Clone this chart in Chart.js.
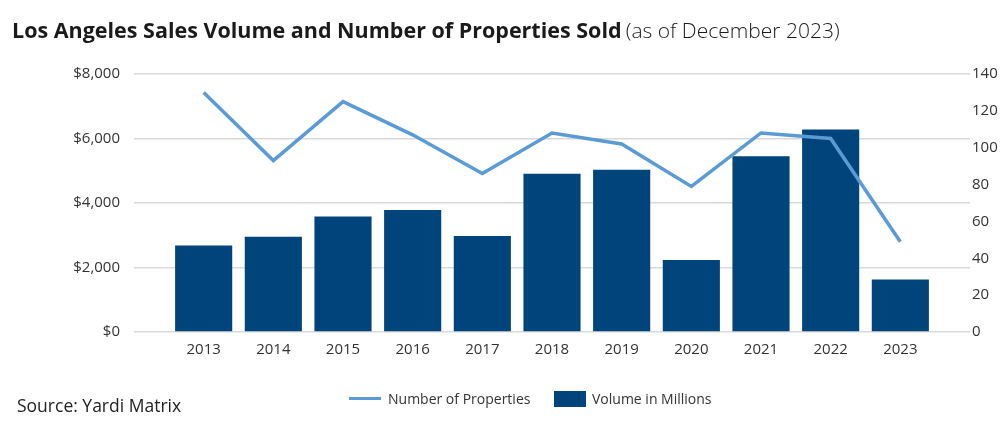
<!DOCTYPE html>
<html>
<head>
<meta charset="utf-8">
<script src="https://cdn.jsdelivr.net/npm/chart.js@4/dist/chart.umd.min.js"></script>
<style>
  html, body { margin: 0; padding: 0; background: #fff; }
  #wrap { position: relative; width: 1007px; height: 433px; overflow: hidden; }
  #c { position: absolute; left: 0; top: 0; }
  #title { position: absolute; left: 12px; top: 15px; font-family: "Open Sans", sans-serif; line-height: 30px; color: #1a1a1a; white-space: nowrap; }
  #title b { font-weight: 700; font-size: 21.5px; }
  #title span { font-weight: 300; font-size: 21px; }
  #source { position: absolute; left: 17px; top: 392px; font-family: "Open Sans", sans-serif; font-size: 17.5px; line-height: 26px; color: #222; white-space: nowrap; }
  .lg { position: absolute; font-family: "Open Sans", sans-serif; font-size: 14px; line-height: 20px; color: #333; white-space: nowrap; }
</style>
</head>
<body>
<div id="wrap">
  <canvas id="c" width="1007" height="433"></canvas>
  <div id="title"></div>
  <div id="legend"></div>
  <div id="source"></div>
</div>
<script>
// ---- Data ----
const years = [2013, 2014, 2015, 2016, 2017, 2018, 2019, 2020, 2021, 2022, 2023];
const volumeMillions = [2680, 2950, 3580, 3780, 2980, 4910, 5030, 2230, 5450, 6280, 1630];
const propertiesSold = [130, 93, 125, 107, 86, 108, 102, 79, 108, 105, 49];
const seriesNames = ["Number of Properties", "Volume in Millions"];
const volumeTicks = [0, 2000, 4000, 6000, 8000];
const countTicks = [0, 20, 40, 60, 80, 100, 120, 140];
const titleMain = "Los Angeles Sales Volume and Number of Properties Sold";
const titleSub = "(as of December 2023)";
const sourceText = "Source: Yardi Matrix";

const lineColor = "#5b9bd5";
const barColor = "#00447c";
const tickFont = { family: "'Open Sans', sans-serif", size: 15 };

document.getElementById("title").innerHTML = "<b></b> <span></span>";
document.querySelector("#title b").textContent = titleMain;
document.querySelector("#title span").textContent = titleSub;
document.getElementById("source").textContent = sourceText;

// legend (HTML)
const lg = document.getElementById("legend");
lg.innerHTML =
  '<div style="position:absolute;left:349px;top:397px;width:32px;height:3px;background:' + lineColor + '"></div>' +
  '<div class="lg" id="lg1" style="left:388px;top:389px"></div>' +
  '<div style="position:absolute;left:554px;top:391px;width:32px;height:16px;background:' + barColor + '"></div>' +
  '<div class="lg" id="lg2" style="left:592px;top:389px"></div>';
document.getElementById("lg1").textContent = seriesNames[0];
document.getElementById("lg2").textContent = seriesNames[1];

new Chart(document.getElementById("c"), {
  data: {
    labels: years,
    datasets: [
      {
        type: "line",
        label: seriesNames[0],
        data: years.map((y, i) => ({ x: y, y: propertiesSold[i] })),
        yAxisID: "y1",
        borderColor: lineColor,
        backgroundColor: lineColor,
        borderWidth: 3.5,
        pointRadius: 0,
        pointHoverRadius: 0,
        tension: 0,
        fill: false
      },
      {
        type: "bar",
        label: seriesNames[1],
        data: years.map((y, i) => ({ x: y, y: volumeMillions[i] })),
        yAxisID: "y",
        backgroundColor: barColor,
        borderWidth: 0,
        barPercentage: 0.82,
        categoryPercentage: 1
      }
    ]
  },
  options: {
    responsive: false,
    animation: false,
    events: [],
    layout: { padding: { top: 74, bottom: 71, left: 0, right: 0 } },
    plugins: { legend: { display: false }, title: { display: false }, tooltip: { enabled: false } },
    scales: {
      x: {
        type: "linear",
        offset: false,
        min: years[0] - 1,
        max: years[years.length - 1] + 1,
        afterBuildTicks: s => { s.ticks = years.map(v => ({ value: v })); },
        afterFit: s => { s.height = 30; },
        ticks: {
          stepSize: 1,
          autoSkip: false,
          maxRotation: 0,
          padding: 9,
          color: "#333",
          font: tickFont,
          callback: v => String(v)
        },
        grid: { display: false, drawTicks: false },
        border: { display: false }
      },
      y: {
        position: "left",
        min: volumeTicks[0],
        max: volumeTicks[volumeTicks.length - 1],
        afterBuildTicks: s => { s.ticks = volumeTicks.map(v => ({ value: v })); },
        afterFit: s => { s.width = 134; },
        ticks: {
          padding: 14,
          color: "#333",
          font: tickFont,
          callback: v => "$" + Number(v).toLocaleString("en-US")
        },
        grid: { color: "#d9d9d9", lineWidth: 1.5, drawTicks: false },
        border: { display: false }
      },
      y1: {
        position: "right",
        min: countTicks[0],
        max: countTicks[countTicks.length - 1],
        afterBuildTicks: s => { s.ticks = countTicks.map(v => ({ value: v })); },
        afterFit: s => { s.width = 37; },
        ticks: { padding: 2, color: "#333", font: tickFont, callback: v => String(v) },
        grid: { display: false, drawTicks: false },
        border: { display: false }
      }
    }
  }
});
</script>
</body>
</html>
